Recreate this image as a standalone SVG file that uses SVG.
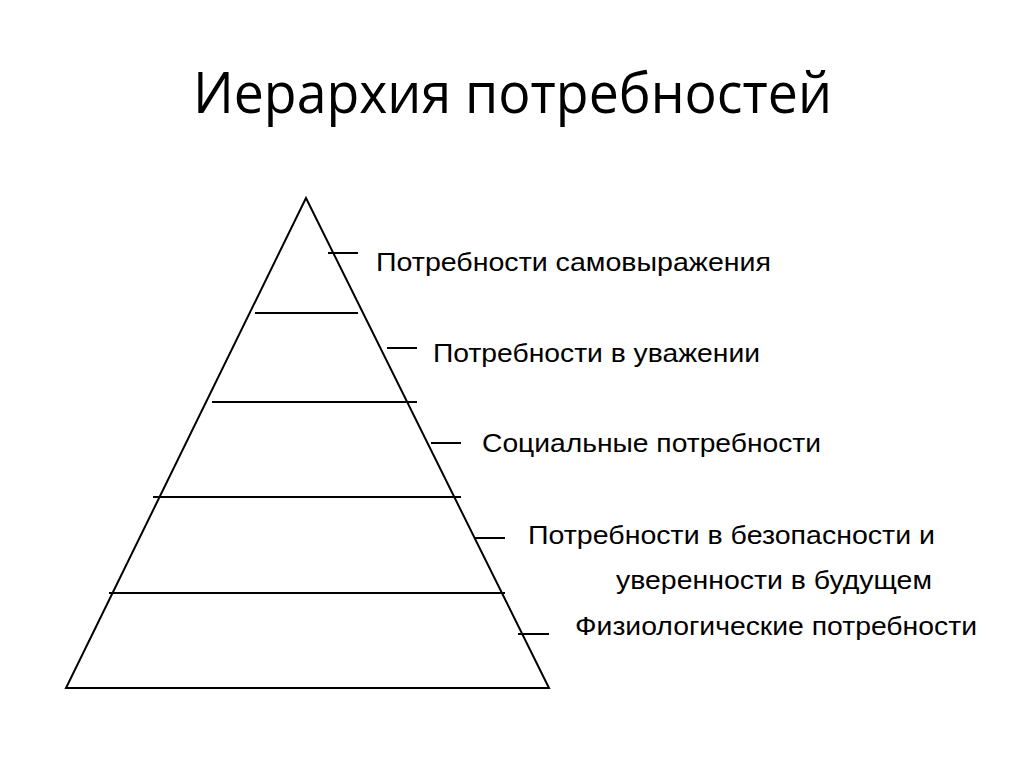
<svg xmlns="http://www.w3.org/2000/svg" width="1024" height="767" viewBox="0 0 1024 767">
<style>
.ln{stroke:#000;stroke-width:2;fill:none}
.lbl{font-family:"Liberation Sans",Arial,sans-serif;font-size:26px;fill:#000}
.ttl{font-family:"Open Sans","Noto Sans",sans-serif;font-size:56px;fill:#000}
</style>
<rect width="1024" height="767" fill="#fff"/>
<text class="ttl" x="193" y="113" textLength="639" lengthAdjust="spacingAndGlyphs">Иерархия потребностей</text>
<g id="pyramid">
<polygon class="ln" points="306,198 66,688 549,688"/>
<line class="ln" x1="255" y1="313" x2="358" y2="313"/>
<line class="ln" x1="212" y1="402" x2="417" y2="402"/>
<line class="ln" x1="153" y1="497" x2="461" y2="497"/>
<line class="ln" x1="109" y1="593" x2="505" y2="593"/>
</g>
<g id="connectors">
<line class="ln" x1="328" y1="253" x2="358" y2="253"/>
<line class="ln" x1="387" y1="348" x2="417" y2="348"/>
<line class="ln" x1="431" y1="443" x2="461" y2="443"/>
<line class="ln" x1="475" y1="538" x2="505" y2="538"/>
<line class="ln" x1="518" y1="634" x2="549" y2="634"/>
</g>
<g id="n1"><text class="lbl" x="376" y="271" textLength="395" lengthAdjust="spacingAndGlyphs">Потребности самовыражения</text></g>
<g id="n2"><text class="lbl" x="433" y="362" textLength="327" lengthAdjust="spacingAndGlyphs">Потребности в уважении</text></g>
<g id="n3"><text class="lbl" x="482" y="452" textLength="339" lengthAdjust="spacingAndGlyphs">Социальные потребности</text></g>
<g id="n4">
<text class="lbl" x="528" y="544" textLength="407" lengthAdjust="spacingAndGlyphs">Потребности в безопасности и</text>
<text class="lbl" x="616" y="589" textLength="316" lengthAdjust="spacingAndGlyphs">уверенности в будущем</text>
</g>
<g id="n5"><text class="lbl" x="575" y="635" textLength="402" lengthAdjust="spacingAndGlyphs">Физиологические потребности</text></g>
</svg>
